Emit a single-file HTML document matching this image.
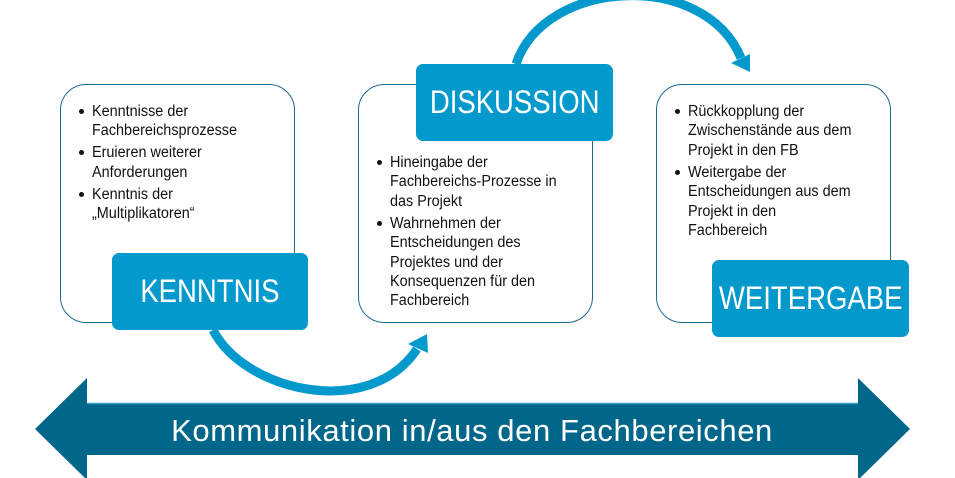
<!DOCTYPE html>
<html><head><meta charset="utf-8"><style>
body{margin:0;background:#fff;width:955px;height:478px;overflow:hidden;position:relative;font-family:"Liberation Sans",sans-serif}
.box{position:absolute;border:1.3px solid #1b6a90;border-radius:26px;background:#fff;box-sizing:border-box}
.lab{position:absolute;background:#0499cc;border-radius:7px;color:#fff;font-size:32px;display:flex;align-items:center;justify-content:center}
.lab span{display:inline-block;transform:scaleX(0.86);white-space:nowrap}
ul{position:absolute;margin:0;padding:0;list-style:none;font-size:15.5px;line-height:19.4px;color:#111;white-space:nowrap}
li{position:relative;padding-left:9px;margin-bottom:2.5px}
li span{display:inline-block;transform:scaleX(0.93);transform-origin:left}
li:before{content:"";position:absolute;left:-4px;top:7px;width:5px;height:5px;border-radius:50%;background:#111}
</style></head><body>
<svg width="955" height="478" style="position:absolute;left:0;top:0">
<polygon points="35,429 87,378 87,403 858,403 858,378 910,429 858,480 858,455 87,455 87,480" fill="#00668a"/>
<line x1="87" y1="403.5" x2="858" y2="403.5" stroke="#3aa0c8" stroke-width="1.5"/>
<text x="472" y="441" fill="#fff" font-size="31" text-anchor="middle" font-family="Liberation Sans, sans-serif" letter-spacing="0.6">Kommunikation in/aus den Fachbereichen</text>
<path d="M213,330 C245,392 370,420 417,349" fill="none" stroke="#0499cc" stroke-width="9"/>
<polygon points="427,334 408,344 428,353" fill="#0499cc"/>
<path d="M516,64 C545,-22 705,-30 741,58" fill="none" stroke="#0499cc" stroke-width="9"/>
<polygon points="750,72 731,63 750,54" fill="#0499cc"/>
</svg>
<div class="box" style="left:60px;top:84px;width:235px;height:239px"></div>
<div class="box" style="left:358px;top:84px;width:235px;height:239px"></div>
<div class="box" style="left:656px;top:84px;width:235px;height:239px"></div>
<div class="lab" style="left:112px;top:253px;width:196px;height:77px"><span>KENNTNIS</span></div>
<div class="lab" style="left:416px;top:64px;width:197px;height:77px"><span>DISKUSSION</span></div>
<div class="lab" style="left:712px;top:260px;width:197px;height:77px"><span>WEITERGABE</span></div>
<ul style="left:83px;top:102px;width:200px"><li><span>Kenntnisse der<br>Fachbereichsprozesse</span></li><li><span>Eruieren weiterer<br>Anforderungen</span></li><li><span>Kenntnis der<br>„Multiplikatoren“</span></li></ul>
<ul style="left:381px;top:153px;width:205px"><li><span>Hineingabe der<br>Fachbereichs-Prozesse in<br>das Projekt</span></li><li><span>Wahrnehmen der<br>Entscheidungen des<br>Projektes und der<br>Konsequenzen für den<br>Fachbereich</span></li></ul>
<ul style="left:679px;top:102px;width:205px"><li><span>Rückkopplung der<br>Zwischenstände aus dem<br>Projekt in den FB</span></li><li><span>Weitergabe der<br>Entscheidungen aus dem<br>Projekt in den<br>Fachbereich</span></li></ul>
</body></html>
